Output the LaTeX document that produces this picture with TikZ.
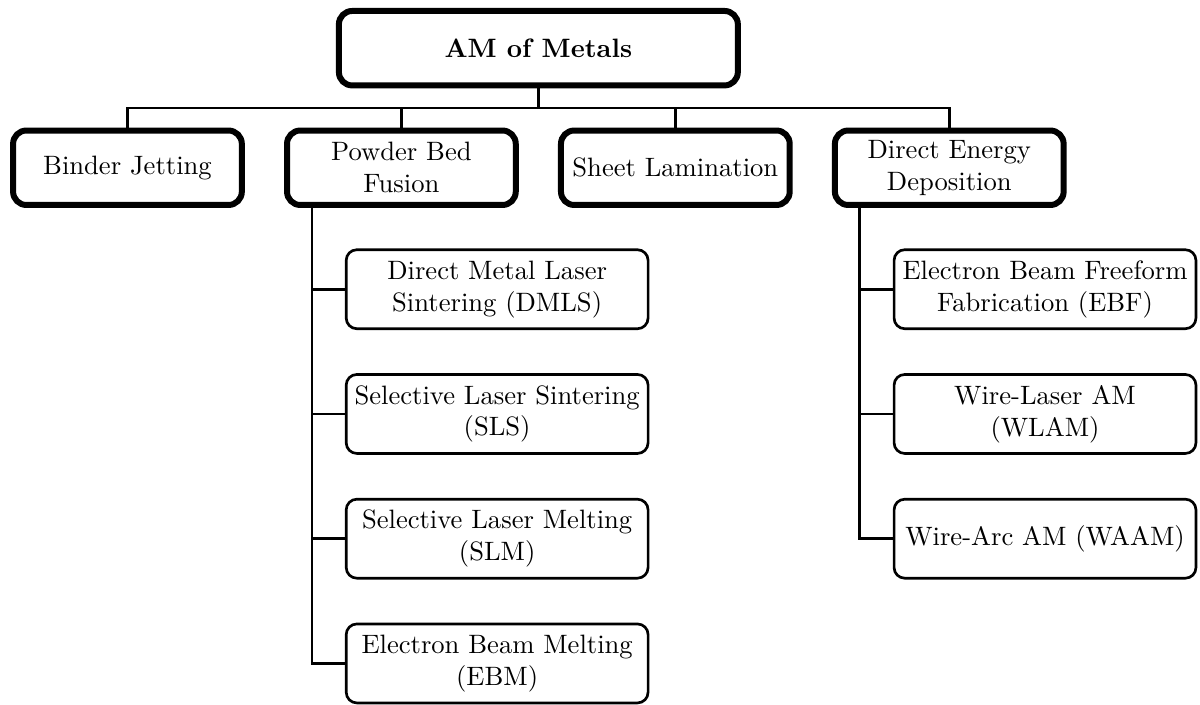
\documentclass[tikz,border=0pt]{standalone}
\usepackage{tikz}
\usetikzlibrary{positioning, calc}

\begin{document}
\begin{tikzpicture}[
  topbox/.style={draw, line width=2.25pt, rounded corners=5pt, minimum height=28pt,
                 minimum width=150pt, font=\bfseries},
  catbox/.style={draw, line width=2.25pt, rounded corners=5pt, minimum height=28pt,
                 minimum width=86pt, inner ysep=2pt, align=center},
  subbox/.style={draw, line width=1pt, rounded corners=4pt, minimum height=29.7pt,
                 minimum width=113.5pt, inner xsep=2pt, inner ysep=2pt, align=center},
  link/.style={line width=1pt}
]
  % Categories
  \node[catbox] (bj) {Binder Jetting};
  \node[catbox, right=14.75pt of bj] (pbf) {Powder Bed\\Fusion};
  \node[catbox, right=14.75pt of pbf] (sl) {Sheet Lamination};
  \node[catbox, right=14.75pt of sl] (ded) {Direct Energy\\Deposition};

  % Root
  \coordinate (mid) at ($(pbf.north)!0.5!(sl.north)$);
  \node[topbox, above=14.7pt of mid] (am) {AM of Metals};

  % Powder bed processes
  \node[subbox, below=15.2pt of pbf, xshift=36pt] (dmls) {Direct Metal Laser\\Sintering (DMLS)};
  \node[subbox, below=16.2pt of dmls] (sls) {Selective Laser Sintering\\(SLS)};
  \node[subbox, below=16.2pt of sls] (slm) {Selective Laser Melting\\(SLM)};
  \node[subbox, below=16.2pt of slm] (ebm) {Electron Beam Melting\\(EBM)};

  % Energy deposition processes
  \node[subbox, below=15.2pt of ded, xshift=36pt] (ebf) {Electron Beam Freeform\\Fabrication (EBF)};
  \node[subbox, below=16.2pt of ebf] (wlam) {Wire-Laser AM\\(WLAM)};
  \node[subbox, below=16.2pt of wlam] (waam) {Wire-Arc AM (WAAM)};

  % Tree lines
  \coordinate (bus) at ($(am.south)!0.5!(pbf.north)$);
  \draw[link] (am.south) -- (am.south |- bus);
  \draw[link] (bj.north) |- (bus -| ded.north) -- (ded.north);
  \draw[link] (pbf.north) -- (pbf.north |- bus);
  \draw[link] (sl.north) -- (sl.north |- bus);

  \coordinate (ptrunk) at ($(dmls.west)+(-12.4pt,0)$);
  \draw[link] (pbf.south -| ptrunk) |- (ebm.west);
  \draw[link] (ptrunk |- dmls.west) -- (dmls.west);
  \draw[link] (ptrunk |- sls.west) -- (sls.west);
  \draw[link] (ptrunk |- slm.west) -- (slm.west);

  \coordinate (dtrunk) at ($(ebf.west)+(-12.4pt,0)$);
  \draw[link] (ded.south -| dtrunk) |- (waam.west);
  \draw[link] (dtrunk |- ebf.west) -- (ebf.west);
  \draw[link] (dtrunk |- wlam.west) -- (wlam.west);

  \useasboundingbox ($(bj.west |- am.north)+(-3.8pt,3pt)$) rectangle ++(451.2pt,-264.7pt);
\end{tikzpicture}
\end{document}
